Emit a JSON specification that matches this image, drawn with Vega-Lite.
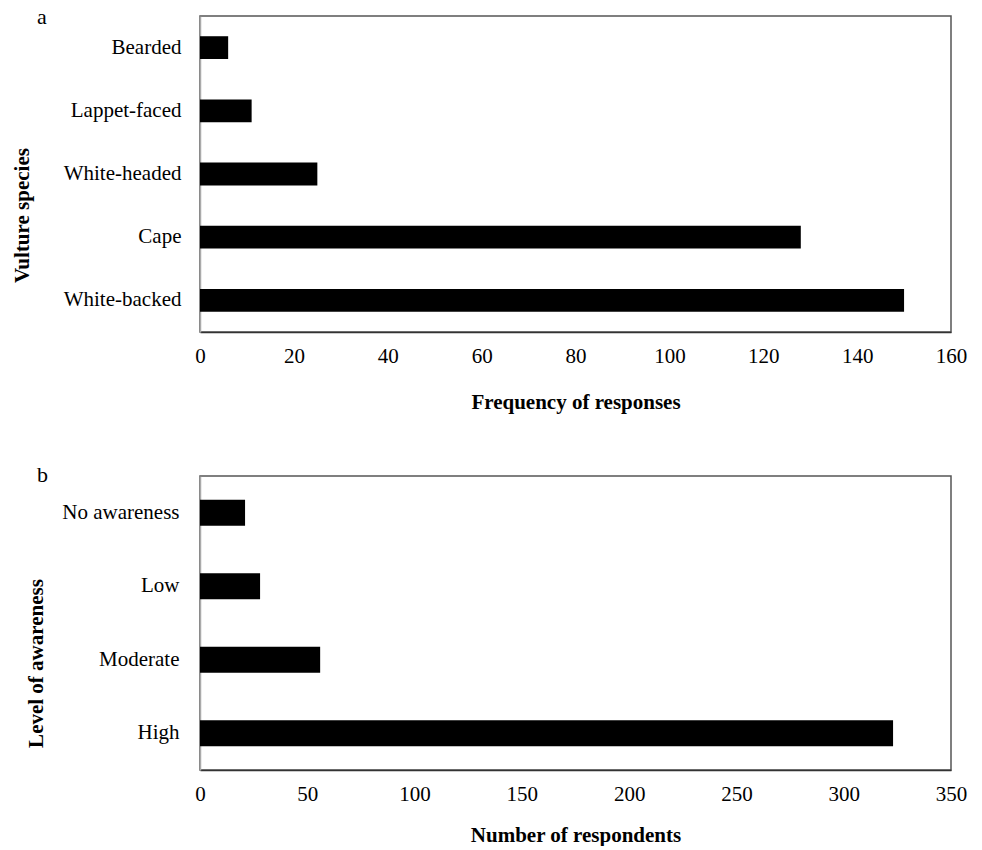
{
  "$schema": "https://vega.github.io/schema/vega-lite/v6.json",
  "background": "white",
  "padding": {"left": 10, "top": 5, "right": 5, "bottom": 0},
  "config": {
    "font": "Liberation Serif",
    "view": {"stroke": "#555", "strokeWidth": 1.5},
    "axis": {
      "labelFont": "Liberation Serif", "labelFontSize": 21, "labelColor": "#000",
      "titleFont": "Liberation Serif", "titleFontSize": 21, "titleFontWeight": "bold", "titleColor": "#000",
      "grid": false, "ticks": false, "domainColor": "#333", "domainWidth": 1.5
    },
    "title": {"font": "Liberation Serif", "fontSize": 22, "fontWeight": "normal", "color": "#000", "anchor": "start", "frame": "group", "offset": 0},
    "concat": {"spacing": 50}
  },
  "vconcat": [
    {
      "title": {"text": "a", "dx": -163, "dy": 17},
      "width": 751,
      "height": 316,
      "data": {"values": [
        {"species": "Bearded", "count": 6},
        {"species": "Lappet-faced", "count": 11},
        {"species": "White-headed", "count": 25},
        {"species": "Cape", "count": 128},
        {"species": "White-backed", "count": 150}
      ]},
      "mark": {"type": "bar", "color": "#000"},
      "encoding": {
        "y": {
          "field": "species", "type": "nominal",
          "sort": ["Bearded", "Lappet-faced", "White-headed", "Cape", "White-backed"],
          "scale": {"paddingInner": 0.64, "paddingOuter": 0.32},
          "axis": {"title": "Vulture species", "labelPadding": 19, "titleX": -178, "titleY": 199, "titleBaseline": "middle", "domainColor": "#aaa"}
        },
        "x": {
          "field": "count", "type": "quantitative",
          "scale": {"domain": [0, 160]},
          "axis": {"values": [0, 20, 40, 60, 80, 100, 120, 140, 160], "title": "Frequency of responses", "labelPadding": 13, "titlePadding": 25, "labelFlush": false}
        }
      }
    },
    {
      "title": {"text": "b", "dx": -163, "dy": 15},
      "width": 751,
      "height": 294,
      "data": {"values": [
        {"level": "No awareness", "n": 21},
        {"level": "Low", "n": 28},
        {"level": "Moderate", "n": 56},
        {"level": "High", "n": 323}
      ]},
      "mark": {"type": "bar", "color": "#000"},
      "encoding": {
        "y": {
          "field": "level", "type": "nominal",
          "sort": ["No awareness", "Low", "Moderate", "High"],
          "scale": {"paddingInner": 0.646, "paddingOuter": 0.323},
          "axis": {"title": "Level of awareness", "labelPadding": 21, "titleX": -164, "titleY": 187, "titleBaseline": "middle", "domainColor": "#aaa"}
        },
        "x": {
          "field": "n", "type": "quantitative",
          "scale": {"domain": [0, 350]},
          "axis": {"values": [0, 50, 100, 150, 200, 250, 300, 350], "title": "Number of respondents", "labelPadding": 13, "titlePadding": 20, "labelFlush": false}
        }
      }
    }
  ]
}
